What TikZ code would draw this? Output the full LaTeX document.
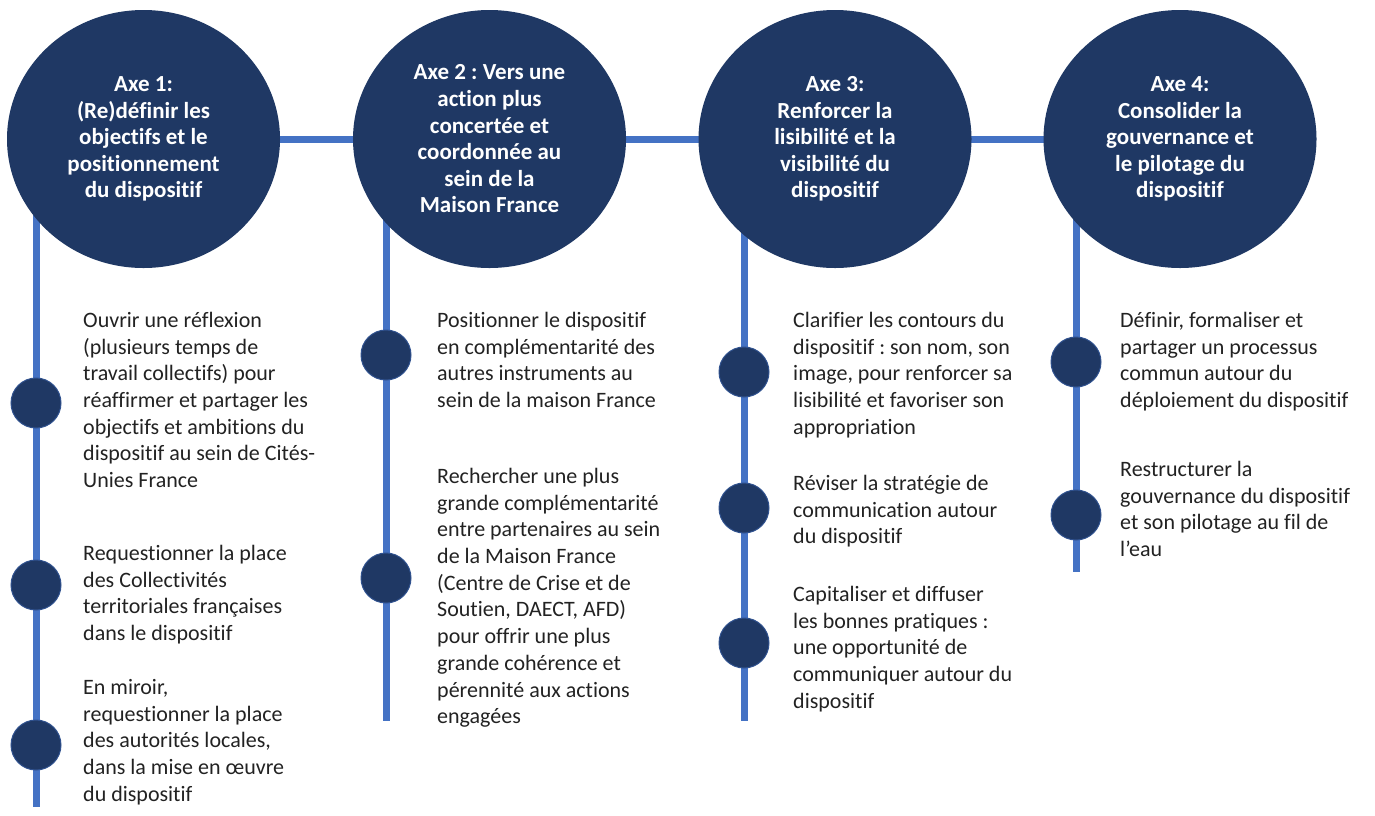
\documentclass[tikz,border=0pt]{standalone}
\usepackage{fontspec}
\setmainfont{Carlito}[RawFeature={-liga;-clig;-calt;-dlig}]
\usetikzlibrary{shapes.geometric,backgrounds}
\frenchspacing

\definecolor{navy}{HTML}{1F3864}
\definecolor{lineblue}{HTML}{4472C4}
\definecolor{textgray}{HTML}{222222}

\tikzstyle{axe}=[shape=ellipse,fill=navy,minimum width=273pt,minimum height=258pt,inner sep=0pt,text=white,font=\bfseries\fontsize{23}{26.6}\selectfont,align=center]
\tikzstyle{dot}=[shape=circle,fill=navy,draw=lineblue!45!navy,line width=1pt,minimum size=50pt,inner sep=0pt]
\tikzstyle{item}=[anchor=north west,inner sep=0pt,text=textgray,font=\fontsize{22}{26.7}\selectfont,align=left,execute at begin node=\strut]
\tikzstyle{spine}=[lineblue,line width=7pt]

\begin{document}
\begin{tikzpicture}[x=1pt,y=-1pt]
\useasboundingbox (0,0) rectangle (1375,815);
% circles
\node[axe] (axe1) at (143.5,139) {Axe 1:\\(Re)définir les\\objectifs et le\\positionnement\\du dispositif};
\node[axe] (axe2) at (489.5,139) {Axe 2 : Vers une\\action plus\\concertée et\\coordonnée au\\sein de la\\Maison France};
\node[axe] (axe3) at (835,139) {Axe 3:\\Renforcer la\\lisibilité et la\\visibilité du\\dispositif};
\node[axe] (axe4) at (1180,139) {Axe 4:\\Consolider la\\gouvernance et\\le pilotage du\\dispositif};
% 1st column
\node[dot] (d1_1) at (36,403) {};
\node[dot] (d1_2) at (36,585) {};
\node[dot] (d1_3) at (36,745) {};
\coordinate (e1) at (36,807);
\node[item] (t1_1) at (83,312) {Ouvrir une réflexion\\(plusieurs temps de\\travail collectifs) pour\\réaffirmer et partager les\\objectifs et ambitions du\\dispositif au sein de Cités-\\Unies France};
\node[item] (t1_2) at (83,545) {Requestionner la place\\des Collectivités\\territoriales françaises\\dans le dispositif};
\node[item] (t1_3) at (83,679) {En miroir,\\requestionner la place\\des autorités locales,\\dans la mise en œuvre\\du dispositif};
% 2nd column
\node[dot] (d2_1) at (386,355) {};
\node[dot] (d2_2) at (386,578) {};
\coordinate (e2) at (386,721);
\node[item] (t2_1) at (437,312) {Positionner le dispositif\\en complémentarité des\\autres instruments au\\sein de la maison France};
\node[item] (t2_2) at (437,468) {Rechercher une plus\\grande complémentarité\\entre partenaires au sein\\de la Maison France\\(Centre de Crise et de\\Soutien, DAECT, AFD)\\pour offrir une plus\\grande cohérence et\\pérennité aux actions\\engagées};
% 3rd column
\node[dot] (d3_1) at (744,372) {};
\node[dot] (d3_2) at (744,508) {};
\node[dot] (d3_3) at (744,643) {};
\coordinate (e3) at (744,721);
\node[item] (t3_1) at (793,312) {Clarifier les contours du\\dispositif : son nom, son\\image, pour renforcer sa\\lisibilité et favoriser son\\appropriation};
\node[item] (t3_2) at (793,475) {Réviser la stratégie de\\communication autour\\du dispositif};
\node[item] (t3_3) at (793,586) {Capitaliser et diffuser\\les bonnes pratiques :\\une opportunité de\\communiquer autour du\\dispositif};
% 4th column
\node[dot] (d4_1) at (1076,362) {};
\node[dot] (d4_2) at (1076,515) {};
\coordinate (e4) at (1076,572);
\node[item] (t4_1) at (1120,312) {Définir, formaliser et\\partager un processus\\commun autour du\\déploiement du dispositif};
\node[item] (t4_2) at (1120,461) {Restructurer la\\gouvernance du dispositif\\et son pilotage au fil de\\l’eau};
% connectors
\begin{pgfonlayer}{background}
\draw[spine] (axe1.center) -- (axe2.center) -- (axe3.center) -- (axe4.center);
\draw[spine] (axe1.center -| e1) -- (e1);
\draw[spine] (axe2.center -| e2) -- (e2);
\draw[spine] (axe3.center -| e3) -- (e3);
\draw[spine] (axe4.center -| e4) -- (e4);
\end{pgfonlayer}
\end{tikzpicture}
\end{document}
